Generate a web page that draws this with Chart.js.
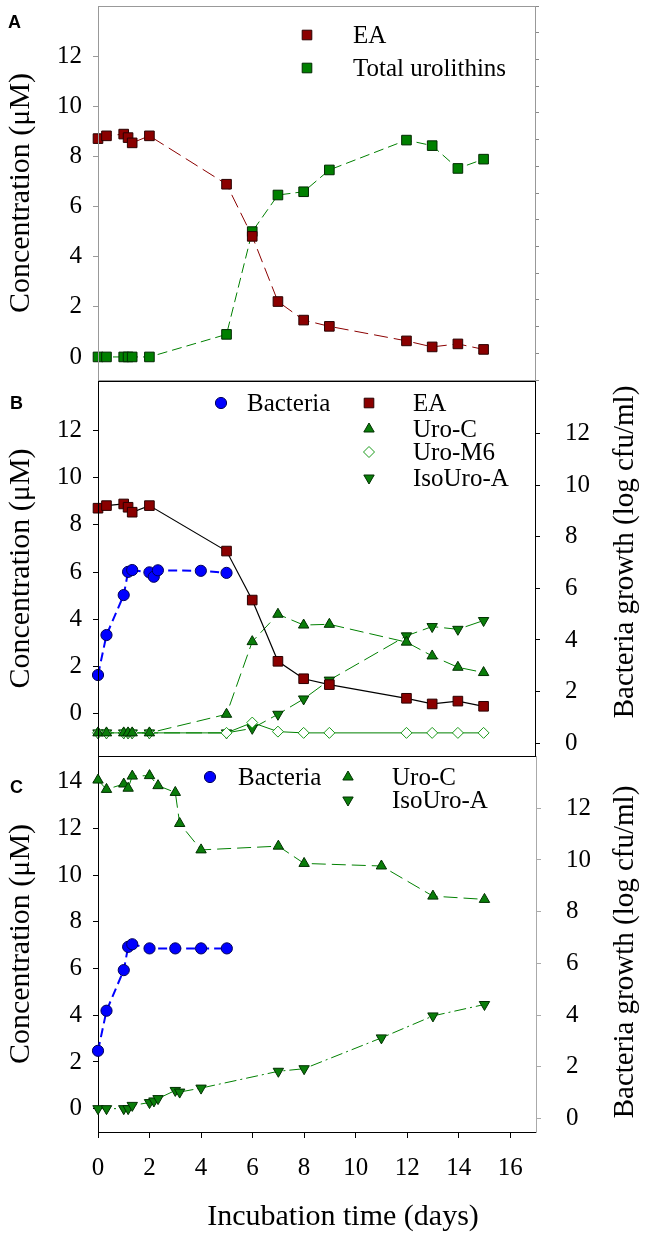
<!DOCTYPE html>
<html>
<head>
<meta charset="utf-8">
<script src="https://cdn.jsdelivr.net/npm/chart.js@4/dist/chart.umd.min.js"></script>
<style>
html, body { margin: 0; padding: 0; background: #fff; }
#wrap { position: relative; width: 646px; height: 1239px; overflow: hidden; }
canvas { position: absolute; left: 0; }
</style>
</head>
<body>
<div id="wrap">
<canvas id="panelA" width="646" height="381" style="top:0px"></canvas>
<canvas id="panelB" width="646" height="385" style="top:376px"></canvas>
<canvas id="panelC" width="646" height="489" style="top:750px"></canvas>
</div>
<script>
'use strict';

// sampling times (days)
const daysMain = [0, 0.33, 1, 1.17, 1.33, 2, 5, 6, 7, 8, 9, 12, 13, 14, 15];
const daysBactB = [0, 0.33, 1, 1.17, 1.33, 2, 2.17, 2.33, 4, 5];
const daysUroC = [0, 0.33, 1, 1.17, 1.33, 2, 2.33, 3, 3.17, 4, 7, 8, 11, 13, 15];
const daysIsoC = [0, 0.33, 1, 1.17, 1.33, 2, 2.17, 2.33, 3, 3.17, 4, 7, 8, 11, 13, 15];
const daysBactC = [0, 0.33, 1, 1.17, 1.33, 2, 3, 4, 5];

// A and B : ellagic acid (uM)
const eaConc = [8.71, 8.82, 8.89, 8.75, 8.54, 8.82, 6.89, 4.81, 2.21, 1.47, 1.22, 0.64, 0.40, 0.52, 0.30];
// A
const totalUro = [0, 0, 0, 0, 0, 0, 0.90, 5.00, 6.46, 6.59, 7.46, 8.65, 8.43, 7.52, 7.89];
// B
const bactB = [2.64, 4.19, 5.74, 6.64, 6.71, 6.62, 6.45, 6.70, 6.68, 6.60];
const uroCB = [0, 0, 0, 0, 0, 0, 0.74, 3.63, 4.72, 4.29, 4.32, 3.61, 3.06, 2.61, 2.40];
const uroM6B = [0, 0, 0, 0, 0, 0, 0, 0.41, 0.05, 0, 0, 0, 0, 0, 0];
const isoUroAB = [0, 0, 0, 0, 0, 0, 0, 0.18, 0.74, 1.35, 2.10, 3.86, 4.23, 4.12, 4.47];
// C
const uroCC = [14.07, 13.67, 13.90, 13.72, 14.24, 14.26, 13.83, 13.54, 12.21, 11.08, 11.24, 10.50, 10.39, 9.10, 8.96];
const isoUroAC = [0, 0, 0, 0, 0.14, 0.26, 0.33, 0.43, 0.78, 0.71, 0.88, 1.60, 1.71, 3.03, 3.97, 4.46];
const bactC = [2.62, 4.17, 5.74, 6.64, 6.74, 6.58, 6.58, 6.58, 6.58];

// tick labels
const concTicks = [0, 2, 4, 6, 8, 10, 12];
const concTicksC = [0, 2, 4, 6, 8, 10, 12, 14];
const bactTicks = [0, 2, 4, 6, 8, 10, 12];
const dayTicks = [0, 2, 4, 6, 8, 10, 12, 14, 16];

const serif = "'Liberation Serif', 'Times New Roman', serif";
const RED = '#8b0000';
const GREEN = '#008000';
const BLUE = '#0000ff';

// marker looks (used by datasets and the hand placed legends)
const mkEA = { style: 'rect', r: 6.8, fill: '#8b0000', stroke: '#2a0000' };
const mkTot = { style: 'rect', r: 6.8, fill: '#008000', stroke: '#002a00' };
const mkBact = { style: 'circle', r: 5.6, fill: '#0000ff', stroke: '#00005a' };
const mkUp = { style: 'triangle', r: 6, rot: 0, fill: '#0a7d0a', stroke: '#003000' };
const mkDown = { style: 'triangle', r: 6, rot: 180, fill: '#0a7d0a', stroke: '#003000' };
const mkM6 = { style: 'rectRot', r: 5.5, fill: '#ffffff', stroke: '#1a9a1a' };

Chart.defaults.font.family = serif;

function pts(xs, ys) {
    return xs.map((x, i) => ({ x: x, y: ys[i] }));
}

function series(label, xs, ys, axis, mk, line, dash, width) {
    return {
        label: label, data: pts(xs, ys), yAxisID: axis,
        showLine: true, tension: 0, clip: false,
        borderColor: line, borderDash: dash, borderWidth: width || 1,
        pointStyle: mk.style, pointRadius: mk.r, pointRotation: mk.rot || 0,
        pointBackgroundColor: mk.fill, pointBorderColor: mk.stroke, pointBorderWidth: 1,
        backgroundColor: mk.fill
    };
}

// fixed axis sizes so the plot boxes land where the figure has them
function setW(w) {
    return s => { s.width = w; s.paddingTop = 0; s.paddingBottom = 0; };
}
function setH(h) {
    return s => { s.height = h; s.paddingLeft = 0; s.paddingRight = 0; };
}
function only(list) { return s => { s.ticks = list.map(v => ({ value: v })); }; }

function leftAxis(min, max, list, col) {
    return {
        position: 'left', min: min, max: max,
        afterBuildTicks: only(list), afterFit: setW(98),
        ticks: { font: { family: serif, size: 25 }, color: '#000', padding: 11 },
        grid: { drawOnChartArea: false, tickLength: 5, tickColor: col },
        border: { color: col, width: 1 },
        title: { display: true, text: 'Concentration (μM)', color: '#000',
                 font: { family: serif, size: 30 }, padding: { top: 3, bottom: 0 } }
    };
}

function rightAxis(min, max, list, col, w) {
    return {
        position: 'right', min: min, max: max,
        afterBuildTicks: only(list), afterFit: setW(w),
        ticks: { font: { family: serif, size: 25 }, color: '#000', padding: 25 },
        grid: { drawOnChartArea: false, tickLength: 5, tickColor: col },
        border: { color: col, width: 1 }
    };
}

function drawMarker(ctx, m, x, y) {
    const r = m.r;
    ctx.save();
    ctx.translate(x, y);
    ctx.rotate((m.rot || 0) * Math.PI / 180);
    ctx.beginPath();
    if (m.style === 'rect') {
        const s = r * Math.SQRT1_2;
        ctx.rect(-s, -s, 2 * s, 2 * s);
    } else if (m.style === 'circle') {
        ctx.arc(0, 0, r, 0, Math.PI * 2);
    } else if (m.style === 'triangle') {
        for (let k = 0; k < 3; k++) {
            const a = k * 2 * Math.PI / 3;
            if (k === 0) ctx.moveTo(Math.sin(a) * r, -Math.cos(a) * r);
            else ctx.lineTo(Math.sin(a) * r, -Math.cos(a) * r);
        }
    } else {
        ctx.moveTo(-r, 0); ctx.lineTo(0, -r); ctx.lineTo(r, 0); ctx.lineTo(0, r);
    }
    ctx.closePath();
    ctx.fillStyle = m.fill;
    ctx.fill();
    ctx.lineWidth = 1;
    ctx.strokeStyle = m.stroke;
    ctx.stroke();
    ctx.restore();
}

// panel letter, frame, legend and the titles chart.js can't place
function decor(cfg) {
    return {
        id: 'decor' + cfg.tag,
        afterDraw(chart) {
            const ctx = chart.ctx;
            const a = chart.chartArea;
            ctx.save();
            if (cfg.frame) {
                ctx.strokeStyle = cfg.frame;
                ctx.lineWidth = 1;
                ctx.strokeRect(Math.round(a.left) + 0.5, Math.round(a.top) + 0.5,
                    Math.round(a.right) - Math.round(a.left), Math.round(a.bottom) - Math.round(a.top));
            }
            ctx.fillStyle = '#000';
            ctx.font = "bold 18px 'Liberation Sans', Arial, sans-serif";
            ctx.textAlign = 'left';
            ctx.textBaseline = 'alphabetic';
            ctx.fillText(cfg.tag, cfg.tagX, cfg.tagY);

            ctx.font = '25px ' + serif;
            ctx.textBaseline = 'middle';
            cfg.legend.forEach(item => {
                drawMarker(ctx, item.mk, item.x, item.y);
                ctx.fillStyle = '#000';
                ctx.fillText(item.text, item.tx, item.y + 1);
            });

            if (cfg.rightTitle) {
                ctx.save();
                ctx.translate(cfg.rightTitle.x, cfg.rightTitle.y);
                ctx.rotate(-Math.PI / 2);
                ctx.font = '29px ' + serif;
                ctx.textAlign = 'center';
                ctx.textBaseline = 'alphabetic';
                ctx.fillText('Bacteria growth (log cfu/ml)', 0, 0);
                ctx.restore();
            }
            if (cfg.xTitle) {
                ctx.font = '30px ' + serif;
                ctx.textAlign = 'center';
                ctx.textBaseline = 'middle';
                ctx.fillText('Incubation time (days)', cfg.xTitle.x, cfg.xTitle.y);
            }
            ctx.restore();
        }
    };
}

function baseOptions(padTop, scales) {
    return {
        responsive: false, animation: false, devicePixelRatio: 1, events: [],
        layout: { autoPadding: false, padding: { top: padTop, left: 0, right: 0, bottom: 0 } },
        plugins: { legend: { display: false }, tooltip: { enabled: false } },
        scales: scales
    };
}

// ---------- panel A ----------
new Chart(document.getElementById('panelA'), {
    type: 'scatter',
    data: {
        datasets: [
            series('EA', daysMain, eaConc, 'y', mkEA, RED, [14, 6], 1),
            series('Total urolithins', daysMain, totalUro, 'y', mkTot, GREEN, [10, 5], 1)
        ]
    },
    options: baseOptions(6, {
        x: {
            type: 'linear', min: 0, max: 17, afterFit: setH(1),
            ticks: { display: false, stepSize: 1 },
            grid: { drawOnChartArea: false, tickLength: 4, tickColor: '#777' },
            border: { color: '#555' }
        },
        y: leftAxis(-0.92, 14, concTicks, '#999'),
        y2: {
            position: 'right', min: 0, max: 14, afterFit: setW(111),
            ticks: { display: false, stepSize: 1 },
            grid: { drawOnChartArea: false, tickLength: 4, tickColor: '#888' },
            border: { color: '#999' }
        }
    }),
    plugins: [decor({
        tag: 'A', tagX: 8, tagY: 28, frame: '#999',
        legend: [
            { mk: mkEA, x: 307, y: 35, text: 'EA', tx: 353 },
            { mk: mkTot, x: 307, y: 68, text: 'Total urolithins', tx: 353 }
        ]
    })]
});

// ---------- panel B ----------
new Chart(document.getElementById('panelB'), {
    type: 'scatter',
    data: {
        datasets: [
            series('Bacteria', daysBactB, bactB, 'y2', mkBact, BLUE, [9, 5], 2),
            series('EA', daysMain, eaConc, 'y', mkEA, '#000', [], 1.2),
            series('Uro-C', daysMain, uroCB, 'y3', mkUp, GREEN, [14, 6], 1),
            series('Uro-M6', daysMain, uroM6B, 'y3', mkM6, GREEN, [], 1),
            series('IsoUro-A', daysMain, isoUroAB, 'y3', mkDown, GREEN, [16, 6], 1)
        ]
    },
    options: baseOptions(5, {
        x: {
            type: 'linear', min: 0, max: 17, afterFit: setH(5),
            ticks: { display: false },
            grid: { display: false },
            border: { color: '#000' }
        },
        y: leftAxis(-1.81, 14.11, concTicks, '#000'),
        y2: rightAxis(-0.5, 14.04, bactTicks, '#000', 111),
        y3: { display: false, min: -0.92, max: 14 }
    }),
    plugins: [decor({
        tag: 'B', tagX: 10, tagY: 33, frame: '#000',
        rightTitle: { x: 633, y: 176 },
        legend: [
            { mk: mkBact, x: 221, y: 27, text: 'Bacteria', tx: 247 },
            { mk: mkEA, x: 369, y: 27, text: 'EA', tx: 413 },
            { mk: mkUp, x: 369, y: 53, text: 'Uro-C', tx: 413 },
            { mk: mkM6, x: 369, y: 76, text: 'Uro-M6', tx: 413 },
            { mk: mkDown, x: 369, y: 102, text: 'IsoUro-A', tx: 413 }
        ]
    })]
});

// ---------- panel C ----------
new Chart(document.getElementById('panelC'), {
    type: 'scatter',
    data: {
        datasets: [
            series('Bacteria', daysBactC, bactC, 'y2', mkBact, BLUE, [9, 5], 2),
            series('Uro-C', daysUroC, uroCC, 'y', mkUp, GREEN, [14, 6], 1),
            series('IsoUro-A', daysIsoC, isoUroAC, 'y', mkDown, GREEN, [12, 4, 2, 4], 1)
        ]
    },
    options: baseOptions(6, {
        x: {
            type: 'linear', min: 0, max: 17, afterFit: setH(107),
            afterBuildTicks: only(dayTicks),
            ticks: { font: { family: serif, size: 25 }, color: '#000', padding: 15, maxRotation: 0, autoSkip: false },
            grid: { drawOnChartArea: false, tickLength: 6, tickColor: '#000' },
            border: { color: '#000' }
        },
        y: leftAxis(-1.0, 15.1, concTicksC, '#000'),
        y2: rightAxis(-0.52, 14.02, bactTicks, '#aaa', 110)
    }),
    plugins: [decor({
        tag: 'C', tagX: 10, tagY: 43,
        rightTitle: { x: 633, y: 202 },
        xTitle: { x: 343, y: 467 },
        legend: [
            { mk: mkBact, x: 210, y: 27, text: 'Bacteria', tx: 238 },
            { mk: mkUp, x: 348, y: 27, text: 'Uro-C', tx: 392 },
            { mk: mkDown, x: 348, y: 50, text: 'IsoUro-A', tx: 392 }
        ]
    })]
});
</script>
</body>
</html>
